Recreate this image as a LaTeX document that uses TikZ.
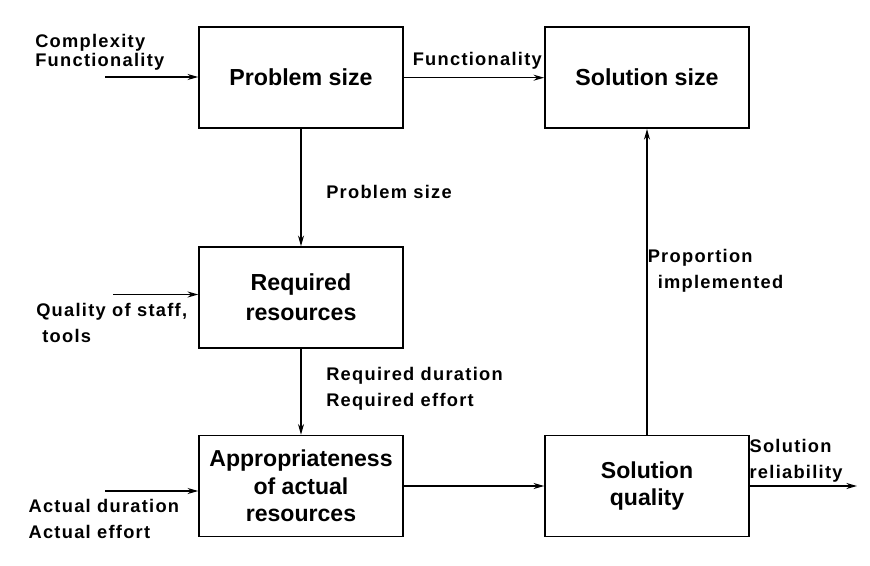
\documentclass[tikz,border=0pt]{standalone}
\usepackage{fontspec}
\setmainfont{Liberation Sans}
\newfontfamily\lblfont[LetterSpace=7]{Liberation Sans}
\usetikzlibrary{arrows.meta,positioning}
\tikzset{
    block/.style={
    rectangle,draw=black,line width=1.2pt,minimum width=153pt,minimum height=75.75pt,
    align=center,font=\fontsize{17.4}{22.5}\selectfont\bfseries
    },
    lblock/.style={
    block,font=\fontsize{17.3}{20.6}\selectfont\bfseries
    },
    lbl/.style={
    anchor=north west,inner sep=0pt,align=left,font=\lblfont\fontsize{13.7}{19.5}\selectfont\bfseries
    },
    flow/.style={
    -{Stealth[length=8pt,width=4.5pt]},line width=1pt
    },
}
\begin{document}
\begin{tikzpicture}[x=0.75pt,y=-0.75pt]
   \useasboundingbox (0,0) rectangle (870,566);

   %blocks
   \node[block] (psize) at (301,77.7) {Problem size};
   \node[block] (ssize) at (647,77.7) {Solution size};
   \node[block] (rres) at (301,297.5) {Required\\resources};
   \node[lblock] (appr) at (301,486) {Appropriateness\\of actual\\resources};
   \node[lblock] (squal) at (647,486) {Solution\\quality};

   %free ends
   \coordinate (cin) at (105,77);
   \coordinate (qin) at (113,294.5);
   \coordinate (ain) at (105,491);
   \coordinate (rout) at (857,487);

   %labels
   \node[lbl,font=\lblfont\fontsize{13.7}{14}\selectfont\bfseries] (cplx) at (35,34) {Complexity\\Functionality};
   \node[lbl] (func) at (412.5,52.5) {Functionality};
   \node[lbl] (plbl) at (326,185) {Problem size};
   \node[lbl] (qual) at (36,303) {Quality of staff,\\\hspace*{4.5pt}tools};
   \node[lbl] (reqd) at (326,366.5) {Required duration\\Required effort};
   \node[lbl] (prop) at (647.5,248.5) {Proportion\\\hspace*{7.5pt}implemented};
   \node[lbl] (rel) at (749.3,439) {Solution\\reliability};
   \node[lbl] (act) at (28.3,499) {Actual duration\\Actual effort};

  \path[flow]
    (psize) edge (ssize)
            edge (rres)
    (rres) edge (appr)
    (appr) edge (squal)
    (squal) edge (ssize);

  %inputs and output
  \draw[flow] (cin) -- (cin -| psize.west);
  \draw[flow] (qin) -- (qin -| rres.west);
  \draw[flow] (ain) -- (ain -| appr.west);
  \draw[flow] (squal.east) -- (squal.east -| rout);
\end{tikzpicture}
\end{document}
